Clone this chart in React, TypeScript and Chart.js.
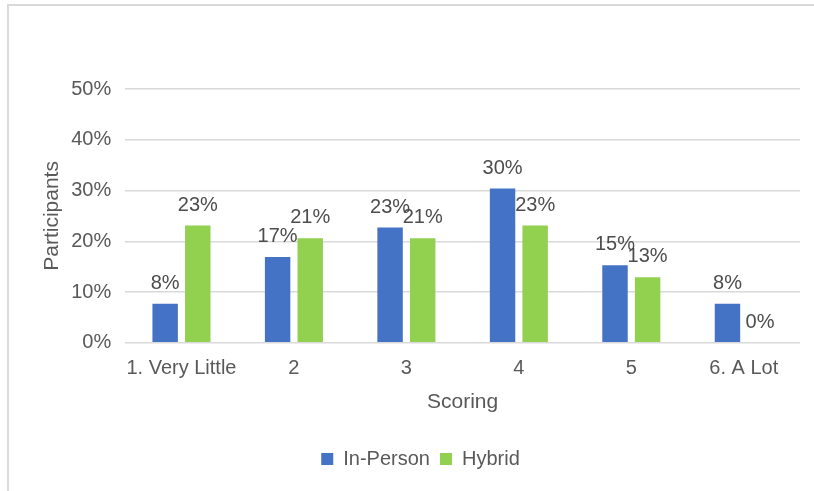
import { useEffect, useRef } from "react";
import { Chart, registerables } from "chart.js";

Chart.register(...registerables);

// Scoring buckets and the share of participants (in %) per delivery format
const categories = ["1. Very Little", "2", "3", "4", "5", "6. A Lot"];
const seriesNames = ["In-Person", "Hybrid"];
const inPerson = [7.7, 16.9, 22.7, 30.4, 15.3, 7.7];
const hybrid = [23.1, 20.6, 20.6, 23.1, 12.9, 0];
const yMax = 50;
const yStep = 10;

const FONT = "'Liberation Sans', Arial, Helvetica, sans-serif";
const TEXT = "#595959";
const GRID = "#d9d9d9";

// Draws the rounded value above every bar
const valueLabels = {
  id: "valueLabels",
  afterDatasetsDraw(chart: any) {
    const ctx = chart.ctx;
    ctx.save();
    ctx.font = `20px ${FONT}`;
    ctx.fillStyle = "#4d4d4d";
    ctx.textAlign = "center";
    ctx.textBaseline = "middle";
    chart.data.datasets.forEach((ds: any, i: number) => {
      const meta = chart.getDatasetMeta(i);
      meta.data.forEach((bar: any, j: number) => {
        const v = ds.data[j] as number;
        ctx.fillText(`${Math.round(v)}%`, bar.x, bar.y - 20.5);
      });
    });
    ctx.restore();
  },
};

export default function App() {
  const canvasRef = useRef<HTMLCanvasElement | null>(null);

  useEffect(() => {
    if (!canvasRef.current) return;
    const chart = new Chart(canvasRef.current, {
      type: "bar",
      data: {
        labels: categories,
        datasets: [
          {
            label: seriesNames[0],
            data: inPerson,
            backgroundColor: "#4472C4",
            borderWidth: 0,
          },
          {
            label: seriesNames[1],
            data: hybrid,
            backgroundColor: "#92D050",
            borderWidth: 0,
          },
        ],
      },
      options: {
        responsive: false,
        animation: false,
        devicePixelRatio: 1,
        layout: { padding: { left: 41, right: 14, top: 89, bottom: 12 } },
        datasets: {
          bar: { categoryPercentage: 0.58, barPercentage: 0.78 },
        },
        plugins: {
          legend: {
            position: "bottom",
            labels: {
              boxWidth: 12,
              boxHeight: 12,
              padding: 10,
              color: TEXT,
              font: { family: FONT, size: 20 },
            },
          },
          tooltip: { enabled: false },
        },
        scales: {
          x: {
            grid: { display: false, drawTicks: false },
            border: { display: false },
            ticks: {
              color: TEXT,
              font: { family: FONT, size: 20 },
              padding: 14,
              maxRotation: 0,
              autoSkip: false,
            },
            title: {
              display: true,
              text: "Scoring",
              color: TEXT,
              font: { family: FONT, size: 21 },
              padding: { top: -5, bottom: 24 },
            },
          },
          y: {
            min: 0,
            max: yMax,
            grid: { color: GRID, lineWidth: 1.5, drawTicks: false },
            border: { display: false },
            ticks: {
              stepSize: yStep,
              color: TEXT,
              font: { family: FONT, size: 20 },
              padding: 14,
              callback: (v: any) => `${v}%`,
            },
            title: {
              display: true,
              text: "Participants",
              color: TEXT,
              font: { family: FONT, size: 21 },
              padding: { top: -1, bottom: -8 },
            },
          },
        },
      },
      plugins: [valueLabels],
    });
    return () => chart.destroy();
  }, []);

  return (
    <div
      style={{
        position: "fixed",
        left: 0,
        top: 0,
        width: 814,
        height: 491,
        overflow: "hidden",
        background: "#ffffff",
      }}
    >
      <div
        style={{
          position: "absolute",
          left: 7,
          top: 4,
          width: 820,
          height: 500,
          borderTop: "2px solid #d9d9d9",
          borderLeft: "2px solid #d9d9d9",
        }}
      />
      <canvas
        ref={canvasRef}
        width={814}
        height={491}
        style={{ position: "absolute", left: 0, top: 0, display: "block" }}
      />
    </div>
  );
}
